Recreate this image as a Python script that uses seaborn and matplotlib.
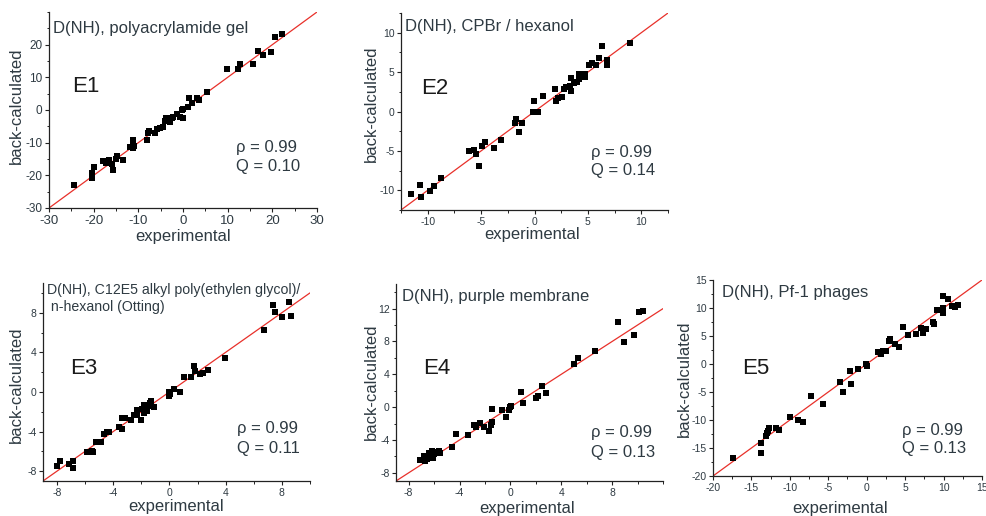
import matplotlib
matplotlib.use("Agg")
import matplotlib.pyplot as plt
from matplotlib.ticker import FixedLocator, MultipleLocator
import pandas as pd
import seaborn as sns

sns.set_style("ticks")
plt.rcParams['font.family'] = ['Liberation Sans', 'DejaVu Sans']
plt.rcParams['axes.unicode_minus'] = False

TEXT = '#2e3a42'
LINE = '#e8302a'

# ---------------- data ----------------
e1_exp = [-24.3, -20.3, -20.3, -20.0, -18.0, -17.3, -16.6, -15.9, -15.6, -15.1, -14.7, -13.5,
          -11.9, -11.1, -11.1, -11.1, -10.9, -7.9, -7.6, -8.0, -6.2, -5.9, -5.2, -4.4, -4.0,
          -3.7, -3.3, -2.9, -2.5, -2.2, -1.4, -0.7, -0.2, -0.1, 0.0, 1.2, 1.3, 2.0, 3.2, 3.5,
          5.3, 9.8, 12.4, 12.7, 15.6, 16.8, 17.8, 19.7, 20.6, 22.2]
e1_calc = [-22.9, -20.8, -19.2, -17.6, -15.5, -16.1, -15.2, -16.6, -18.5, -15.0, -14.0, -15.4,
           -11.2, -9.3, -10.4, -11.7, -10.9, -6.9, -6.4, -9.1, -7.1, -5.8, -5.6, -5.1, -3.4,
           -2.5, -2.6, -3.6, -2.5, -2.0, -1.3, -2.0, 0.0, -2.5, 0.2, 1.0, 3.8, 2.2, 3.8, 3.0,
           5.4, 12.7, 12.5, 14.2, 14.2, 18.0, 16.8, 17.8, 22.4, 23.2]

e2_exp = [-11.55, -10.74, -10.62, -9.75, -9.41, -8.76, -6.16, -5.63, -5.51, -4.92, -4.61, -5.2,
          -3.75, -3.1, -1.83, -1.7, -1.42, -1.21, -0.06, -0.12, 0.12, 0.34, 0.84, 1.92, 1.98,
          2.17, 2.6, 2.72, 2.91, 3.13, 3.34, 3.44, 3.44, 3.68, 4.02, 4.21, 4.21, 4.74, 4.77,
          5.14, 5.42, 5.73, 6.04, 6.35, 6.81, 6.75, 8.92]
e2_calc = [-10.5, -9.3, -10.8, -10.1, -9.5, -8.5, -4.95, -4.86, -5.33, -4.44, -3.81, -6.9,
           -4.65, -3.64, -1.4, -0.93, -2.58, -1.52, 1.27, 0.0, 0.0, 0.0, 2.03, 2.83, 1.27,
           1.69, 1.9, 2.83, 3.09, 3.09, 3.26, 4.23, 2.66, 3.59, 3.8, 4.1, 4.78, 4.78, 4.36,
           5.84, 6.13, 5.92, 6.85, 8.25, 6.55, 5.84, 8.75]

e3_exp = [-8.03, -7.77, -7.13, -6.9, -6.9, -5.9, -5.53, -5.46, -5.2, -4.9, -4.68, -4.42, -4.3,
          -3.62, -3.41, -3.41, -3.13, -2.77, -2.54, -2.3, -2.3, -2.02, -1.92, -1.83, -1.78,
          -1.7, -1.59, -1.55, -1.36, -1.29, -1.12, 0.0, 0.0, 0.05, 0.34, 0.76, 1.05, 1.54,
          1.71, 1.8, 2.18, 2.37, 2.72, 3.95, 6.73, 7.34, 7.48, 8.03, 8.54, 8.64]
e3_calc = [-7.45, -6.97, -7.28, -6.97, -7.65, -6.09, -5.93, -6.09, -5.11, -5.11, -4.27, -4.06,
           -4.0, -3.59, -3.76, -2.64, -2.64, -2.81, -2.3, -1.8, -2.3, -2.88, -1.73, -2.13,
           -1.36, -1.9, -1.97, -1.46, -1.12, -0.88, -1.56, 0.0, -0.37, -0.17, 0.3, -0.03, 1.55,
           1.48, 2.6, 2.09, 1.76, 1.93, 2.26, 3.38, 6.29, 8.76, 8.05, 7.57, 9.1, 7.68]

e4_exp = [-7.14, -6.82, -6.75, -6.56, -6.38, -6.17, -6.3, -6.09, -5.98, -5.77, -5.64, -5.51,
          -6.6, -6.0, -4.57, -4.28, -3.36, -2.89, -2.68, -2.41, -2.05, -1.65, -1.52, -1.44,
          -1.47, -0.63, -0.31, -0.13, -0.05, 0.05, 0.84, 0.97, 2.02, 2.18, 2.52, 2.81, 5.01,
          5.28, 6.69, 8.45, 8.92, 9.74, 10.13, 10.45]
e4_calc = [-6.48, -5.99, -6.6, -6.27, -5.58, -5.3, -5.99, -6.19, -5.58, -5.46, -5.38, -5.58,
           -6.2, -5.7, -4.85, -3.22, -3.34, -2.2, -2.44, -1.91, -2.44, -2.93, -2.12, -1.83,
           -0.2, -0.37, -1.26, -0.29, 0.0, 0.12, 1.83, 0.49, 1.14, 1.34, 2.57, 1.67, 5.25,
           6.03, 6.84, 10.43, 7.94, 8.8, 11.53, 11.73]

e5_exp = [-17.43, -13.74, -13.78, -13.04, -12.91, -12.8, -12.7, -11.83, -11.39, -10.04, -8.96,
          -8.3, -7.3, -5.74, -3.44, -3.05, -2.22, -2.09, -1.09, -0.05, 0.0, 1.43, 1.91, 2.13,
          2.52, 2.91, 3.04, 3.69, 4.17, 4.69, 5.34, 6.39, 7.12, 7.38, 7.69, 8.6, 8.69, 9.12,
          9.43, 9.9, 9.99, 9.99, 10.55, 11.16, 11.51, 11.82]
e5_calc = [-16.85, -14.1, -15.9, -12.86, -12.38, -11.9, -11.49, -11.37, -11.79, -9.52, -10.0,
           -10.42, -5.77, -7.14, -3.15, -5.06, -1.31, -3.51, -0.9, 0.0, -0.3, 2.2, 1.84, 2.32,
           2.32, 4.11, 4.4, 3.57, 2.98, 6.55, 5.18, 5.36, 6.49, 5.48, 6.31, 7.56, 7.08, 9.64,
           9.64, 12.14, 10.06, 9.17, 11.67, 10.42, 10.24, 10.54]

panel_names = ['E1', 'E2', 'E3', 'E4', 'E5']
panel_titles = [['D(NH), polyacrylamide gel'],
                ['D(NH), CPBr / hexanol'],
                ['D(NH), C12E5 alkyl poly(ethylen glycol)/', ' n-hexanol (Otting)'],
                ['D(NH), purple membrane'],
                ['D(NH), Pf-1 phages']]
rho_texts = ['\u03c1 = 0.99'] * 5
q_texts = ['Q = 0.10', 'Q = 0.14', 'Q = 0.11', 'Q = 0.13', 'Q = 0.13']

x_limits = [(-30, 30), (-12.5, 12.5), (-9, 10), (-9, 12), (-20, 15)]
y_limits = [(-30, 30), (-12.5, 12.5), (-9, 11), (-9, 15), (-20, 15)]
x_major = [[-30, -20, -10, 0, 10, 20, 30], [-10, -5, 0, 5, 10], [-8, -4, 0, 4, 8],
           [-8, -4, 0, 4, 8], [-20, -15, -10, -5, 0, 5, 10, 15]]
y_major = [[-30, -20, -10, 0, 10, 20], [-10, -5, 0, 5, 10], [-8, -4, 0, 4, 8],
           [-8, -4, 0, 4, 8, 12], [-20, -15, -10, -5, 0, 5, 10, 15]]
minor_step = [5, 2.5, 2, 2, 2.5]

exp_data = [e1_exp, e2_exp, e3_exp, e4_exp, e5_exp]
calc_data = [e1_calc, e2_calc, e3_calc, e4_calc, e5_calc]

# ---------------- layout (pixels) ----------------
W, H = 987, 516
ax_px = [(49, 12, 317, 208), (401, 13, 668, 210), (43, 283, 310, 481),
         (396, 284, 663, 481), (713, 280, 982, 476)]
xlabel_px = [(183, 237), (532, 234), (176, 507), (527, 508), (840, 508)]
ylabel_px = [(16, 106), (371, 104), (16, 385), (371, 382), (684, 379)]
title_px = [[(53, 28)], [(405, 26)], [(47, 290), (47, 307)], [(402, 297)], [(722, 292)]]
title_size = [12, 12, 10.2, 12, 12]
name_px = [(72, 87), (421, 88), (70, 368), (423, 369), (742, 368)]
rho_px = [(236, 147), (591, 152), (237, 429), (591, 432), (902, 430)]
q_px = [(236, 166), (591, 171), (237, 448), (591, 452), (902, 448)]
xtick_size = [9.5, 7.5, 7.5, 7.5, 7.5]
ytick_size = [8.5, 7.5, 7.5, 7.5, 7.5]

fig = plt.figure(figsize=(W / 100, H / 100), dpi=100)


def fx(px):
    return px / W


def fy(py):
    return 1 - py / H


for i in range(5):
    l, t, r, b = ax_px[i]
    ax = fig.add_axes([fx(l), fy(b), (r - l) / W, (b - t) / H])
    df = pd.DataFrame({'experimental': exp_data[i], 'back-calculated': calc_data[i]})
    ax.axline((0, 0), slope=1, color=LINE, lw=0.9, zorder=2)
    sns.scatterplot(data=df, x='experimental', y='back-calculated', ax=ax, marker='s',
                    s=13, color='black', linewidth=0, zorder=3)
    ax.set_xlim(*x_limits[i])
    ax.set_ylim(*y_limits[i])
    ax.xaxis.set_major_locator(FixedLocator(x_major[i]))
    ax.yaxis.set_major_locator(FixedLocator(y_major[i]))
    ax.xaxis.set_minor_locator(MultipleLocator(minor_step[i]))
    ax.yaxis.set_minor_locator(MultipleLocator(minor_step[i]))
    ax.set_xticklabels([str(v) for v in x_major[i]])
    ax.set_yticklabels([str(v) for v in y_major[i]])
    sns.despine(ax=ax)
    for s in ('left', 'bottom'):
        ax.spines[s].set_color('#222222')
        ax.spines[s].set_linewidth(0.9)
    ax.tick_params(which='major', direction='out', length=3.2, width=0.8, color='#222222',
                   labelcolor=TEXT, pad=1.5)
    ax.tick_params(axis='x', which='major', labelsize=xtick_size[i])
    ax.tick_params(axis='y', which='major', labelsize=ytick_size[i])
    ax.tick_params(which='minor', direction='out', length=1.8, width=0.7, color='#222222')
    ax.set_xlabel('experimental', fontsize=12, color=TEXT)
    ax.set_ylabel('back-calculated', fontsize=12, color=TEXT)
    xl, yl = xlabel_px[i]
    ax.xaxis.set_label_coords((xl - l) / (r - l), (b - yl) / (b - t))
    ax.xaxis.label.set_va('center')
    yx, yy = ylabel_px[i]
    ax.yaxis.set_label_coords((yx - l) / (r - l), (b - yy) / (b - t))
    ax.yaxis.label.set_va('center')
    ax.patch.set_alpha(0)

    for line, (tx, ty) in zip(panel_titles[i], title_px[i]):
        fig.text(fx(tx), fy(ty), line, fontsize=title_size[i], color=TEXT,
                 ha='left', va='center')
    nx, ny = name_px[i]
    fig.text(fx(nx), fy(ny), panel_names[i], fontsize=16, color='#1a1a1a',
             ha='left', va='center')
    rx, ry = rho_px[i]
    fig.text(fx(rx), fy(ry), rho_texts[i], fontsize=12, color=TEXT, ha='left', va='center')
    qx, qy = q_px[i]
    fig.text(fx(qx), fy(qy), q_texts[i], fontsize=12, color=TEXT, ha='left', va='center')

fig.savefig('out.png', dpi=100, facecolor='white')
